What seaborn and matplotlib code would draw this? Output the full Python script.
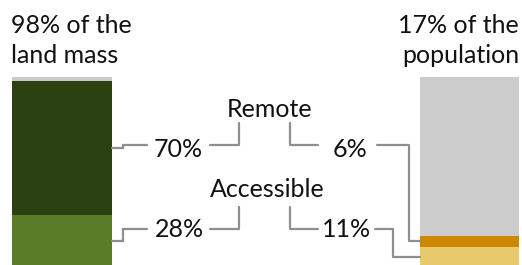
import matplotlib
matplotlib.use("Agg")
import matplotlib.pyplot as plt
import seaborn as sns
import pandas as pd

# ---- data ----
bars = ["land mass", "population"]
share_total = [98, 17]          # % of land mass / population in the region
remote = [70, 6]
accessible = [28, 11]
remote_labels = ["70%", "6%"]
accessible_labels = ["28%", "11%"]
header_left = ["98% of the", "land mass"]
header_right = ["17% of the", "population"]

col_grey = "#cccccc"
upper_cols = ["#2b4111", "#cc8800"]
lower_cols = ["#587c27", "#e8c96b"]
line_col = "#8c9090"

sns.set_theme(style="white")
plt.rcParams["font.family"] = ["Lato", "DejaVu Sans"]

fig = plt.figure(figsize=(5.22, 2.65), dpi=100)
ax = fig.add_axes([0, 0, 1, 1])

W = 0.245
df_tot = pd.DataFrame({"bar": bars, "v": [100, 100]})
df_up = pd.DataFrame({"bar": bars, "v": [a + r for a, r in zip(accessible, remote)]})
df_lo = pd.DataFrame({"bar": bars, "v": accessible})

sns.barplot(data=df_tot, x="bar", y="v", hue="bar", palette=[col_grey, col_grey],
            width=W, legend=False, ax=ax, linewidth=0, saturation=1)
sns.barplot(data=df_up, x="bar", y="v", hue="bar", palette=upper_cols,
            width=W, legend=False, ax=ax, linewidth=0, saturation=1)
sns.barplot(data=df_lo, x="bar", y="v", hue="bar", palette=lower_cols,
            width=W, legend=False, ax=ax, linewidth=0, saturation=1)

# pixel -> data helpers (layout only)
def px(x):
    return (x - 62) / 407.5

def py(y):
    return (268 - y) / 1.91

ax.set_xlim(px(0), px(522))
ax.set_ylim(py(265), py(0))
ax.axis("off")

fs = 18
tc = "#111111"
for i, t in enumerate(header_left):
    ax.text(px(11), py(33 + 30 * i), t, ha="left", va="baseline", fontsize=fs, color=tc)
for i, t in enumerate(header_right):
    ax.text(px(519), py(33 + 30 * i), t, ha="right", va="baseline", fontsize=fs, color=tc)

ax.text(px(270), py(117), "Remote", ha="center", va="baseline", fontsize=fs, color=tc)
ax.text(px(267), py(197), "Accessible", ha="center", va="baseline", fontsize=fs, color=tc)

ax.text(px(178), py(157), remote_labels[0], ha="center", va="baseline", fontsize=fs, color=tc)
ax.text(px(350), py(157), remote_labels[1], ha="center", va="baseline", fontsize=fs, color=tc)
ax.text(px(179), py(237), accessible_labels[0], ha="center", va="baseline", fontsize=fs, color=tc)
ax.text(px(347), py(237), accessible_labels[1], ha="center", va="baseline", fontsize=fs, color=tc)

lw = 1.6
left_edge = 0 + W / 2
right_edge = 1 - W / 2
# segment midpoints from data
mid_rem = [accessible[i] + remote[i] / 2 for i in range(2)]
mid_acc = [accessible[i] / 2 for i in range(2)]

rows = [(py(145), py(123), mid_rem), (py(229), py(207), mid_acc)]
for ry, top, mids in rows:
    # left connector
    ax.plot([left_edge, px(123), px(123), px(147)], [mids[0], mids[0], ry, ry],
            color=line_col, lw=lw, solid_joinstyle="miter")
    # bracket around category label
    ax.plot([px(210), px(239), px(239)], [ry, ry, top], color=line_col, lw=lw)
    ax.plot([px(290), px(290), px(318)], [top, ry, ry], color=line_col, lw=lw)

# right connectors
ax.plot([px(377), px(409), px(409), right_edge], [rows[0][0], rows[0][0], mid_rem[1], mid_rem[1]],
        color=line_col, lw=lw)
ax.plot([px(375), px(393), px(393), right_edge], [rows[1][0], rows[1][0], mid_acc[1], mid_acc[1]],
        color=line_col, lw=lw)

fig.savefig("out.png", dpi=100)
